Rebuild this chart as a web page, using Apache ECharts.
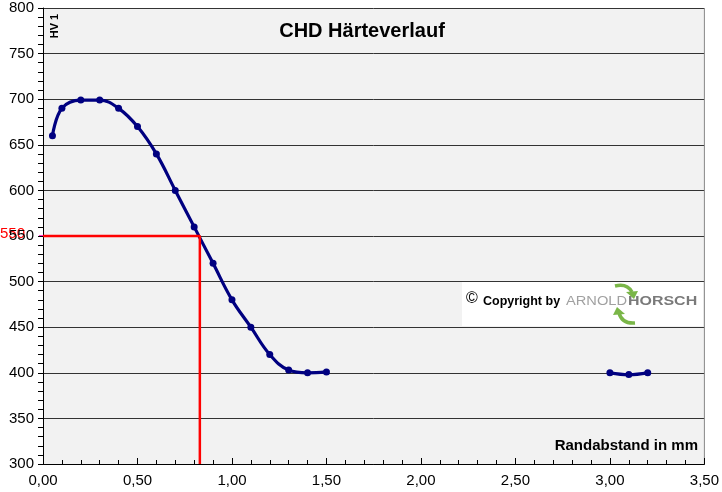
<!DOCTYPE html>
<html><head><meta charset="utf-8">
<script src="https://cdn.jsdelivr.net/npm/echarts@6/dist/echarts.min.js"></script>
<style>html,body{margin:0;padding:0;background:#fff}#c{width:722px;height:492px}</style>
</head><body><div id="c"></div>
<script>
// Data
var depthA = [0.05, 0.1, 0.2, 0.3, 0.4, 0.5, 0.6, 0.7, 0.8, 0.9, 1.0, 1.1, 1.2, 1.3, 1.4, 1.5];
var hardA  = [660, 690, 699, 699, 690, 670, 640, 600, 560, 520, 480, 450, 420, 403, 400, 401];
var depthB = [3.0, 3.1, 3.2];
var hardB  = [400, 398, 400];
var chdX = [0, 0.83, 0.83];
var chdY = [550, 550, 300];
var chdLabel = '550';
var titleText = 'CHD Härteverlauf';
var yTitle = 'HV 1';
var xTitle = 'Randabstand in mm';

function pairs(xs, ys){ return xs.map(function(x,i){return [x, ys[i]];}); }
var curve = pairs(depthA, hardA).concat([[2.25, null]]).concat(pairs(depthB, hardB));

var chart = echarts.init(document.getElementById('c'), null, {renderer:'canvas'});
var font = 'Liberation Sans, Arial, sans-serif';
chart.setOption({
  animation:false,
  backgroundColor:'#ffffff',
  grid:{left:43, right:16, top:8, bottom:28, show:true, backgroundColor:'#f2f2f2', borderWidth:0},
  xAxis:{type:'value', min:0, max:3.5, interval:0.5,
    axisLine:{onZero:false, lineStyle:{color:'#000', width:1}},
    axisTick:{show:true, inside:true, length:6, lineStyle:{color:'#000'}},
    minorTick:{show:true, splitNumber:5, length:4, lineStyle:{color:'#000'}},
    splitLine:{show:false},
    axisLabel:{color:'#000', fontSize:15, fontFamily:font, margin:9,
      formatter:function(v){return v.toFixed(2).replace('.',',');}}
  },
  yAxis:{type:'value', min:300, max:800, interval:50,
    axisLine:{show:true, lineStyle:{color:'#000', width:1}},
    axisTick:{show:true, length:5, lineStyle:{color:'#000'}},
    minorTick:{show:true, splitNumber:5, length:5, lineStyle:{color:'#000'}},
    splitLine:{show:true, lineStyle:{color:'#333', width:1}},
    axisLabel:{color:'#000', fontSize:15, fontFamily:font, margin:9}
  },
  series:[
    {type:'line', data:curve, smooth:0.4, connectNulls:false, symbol:'circle', symbolSize:7,
     lineStyle:{color:'#000080', width:3.2}, itemStyle:{color:'#000080'}, z:3},
    {type:'line', data:pairs(chdX, chdY), symbol:'none', smooth:false,
     lineStyle:{color:'#ff0000', width:2.5}, z:4}
  ]
});

function px(x,y){ return chart.convertToPixel({gridIndex:0},[x,y]); }
var pTop = px(3.5, 800), pBot = px(3.5, 300), p550 = px(0, 550);
var green = '#7ab648';
chart.setOption({graphic:[
  {type:'line', shape:{x1:pTop[0], y1:pTop[1], x2:pBot[0], y2:pBot[1]}, style:{stroke:'#888', lineWidth:1}},
  {type:'text', x:362, y:31, style:{text:titleText, font:'bold 20px '+font, fill:'#000', align:'center', verticalAlign:'middle'}},
  {type:'text', x:55, y:26, rotation:Math.PI/2, style:{text:yTitle, font:'bold 11px '+font, fill:'#000', align:'center', verticalAlign:'middle'}},
  {type:'text', x:698, y:446, style:{text:xTitle, font:'bold 15px '+font, fill:'#000', align:'right', verticalAlign:'middle'}},
  {type:'text', x:p550[0]-18, y:p550[1]-2, style:{text:chdLabel, font:'15px '+font, fill:'#ff0000', align:'right', verticalAlign:'middle'}},
  {type:'line', shape:{x1:p550[0]-4, y1:p550[1], x2:p550[0], y2:p550[1]}, style:{stroke:'#ff33cc', lineWidth:2}},
  {type:'rect', shape:{x:462, y:282, width:241, height:44}, style:{fill:'#ffffff'}},
  {type:'text', x:466, y:299, style:{text:'©', font:'16px '+font, fill:'#000', verticalAlign:'middle'}},
  {type:'text', x:483, y:302, style:{text:'Copyright by', font:'bold 12.5px '+font, fill:'#000', verticalAlign:'middle'}},
  {type:'text', x:566, y:302, scaleX:1.22, style:{text:'ARNOLD', font:'12px '+font, fill:'#a0a0a0', verticalAlign:'middle'}},
  {type:'text', x:628, y:302, scaleX:1.33, style:{text:'HORSCH', font:'bold 12px '+font, fill:'#7a7a7a', verticalAlign:'middle'}},
  {type:'bezierCurve', shape:{x1:615, y1:286, x2:632, y2:292, cpx1:627, cpy1:283}, style:{stroke:green, lineWidth:3.5, fill:null}},
  {type:'polygon', shape:{points:[[626,292],[638,291],[634,299]]}, style:{fill:green}},
  {type:'bezierCurve', shape:{x1:635, y1:323, x2:619, y2:313, cpx1:622, cpy1:324}, style:{stroke:green, lineWidth:3.5, fill:null}},
  {type:'polygon', shape:{points:[[613,315],[625,314],[617,307]]}, style:{fill:green}}
]});
</script></body></html>
